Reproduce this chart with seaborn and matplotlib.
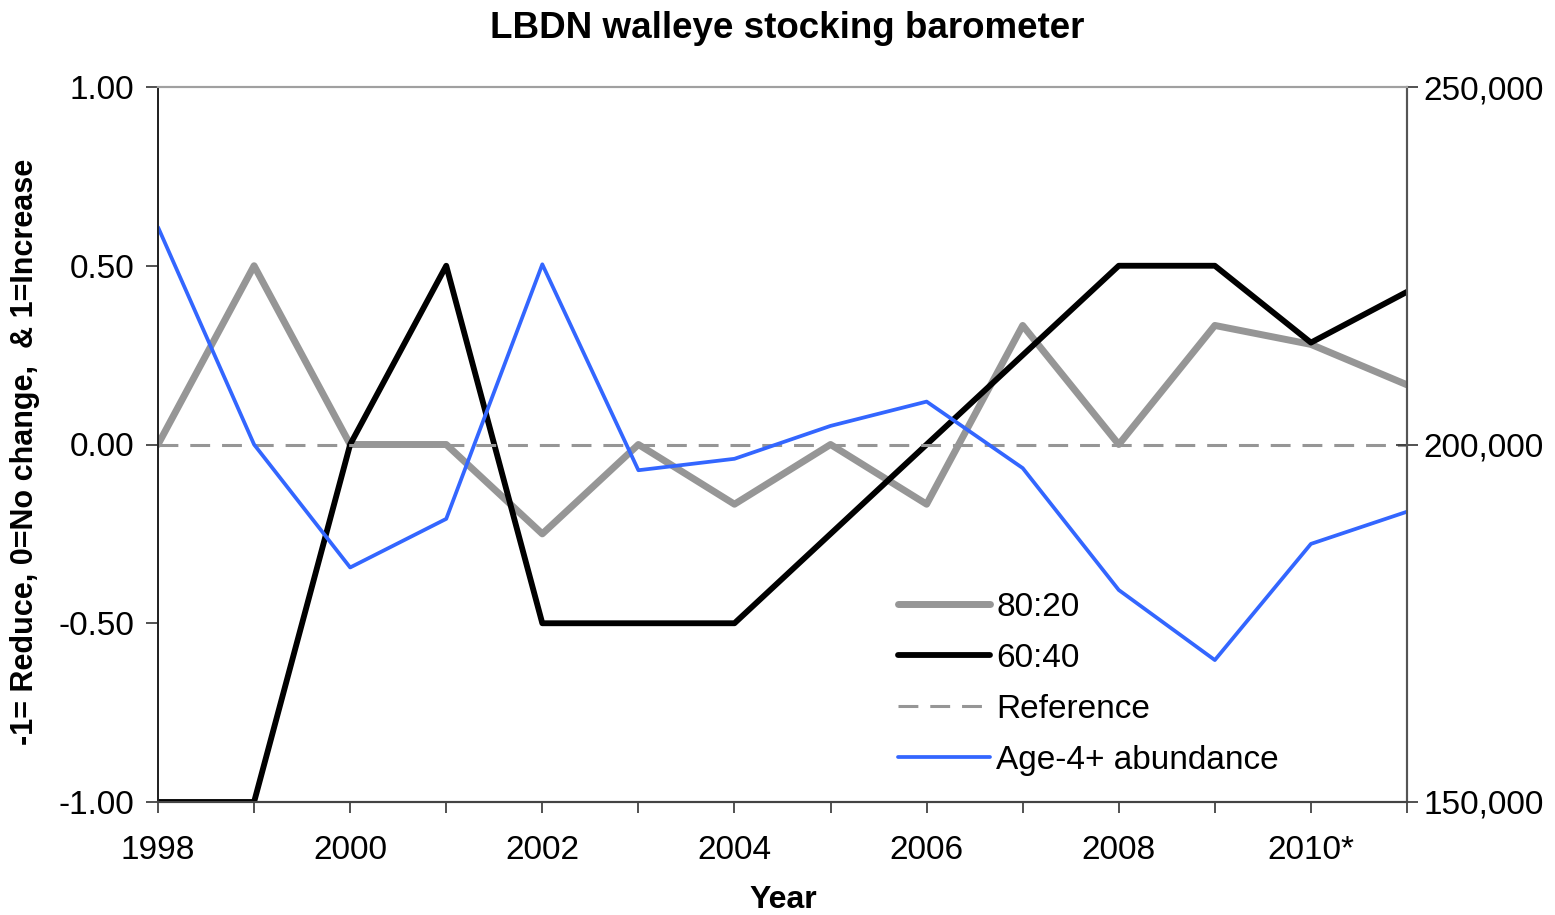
import numpy as np
import pandas as pd
import matplotlib
matplotlib.use("Agg")
import matplotlib.pyplot as plt
import matplotlib.ticker as mticker
import seaborn as sns

# ---- data ----
years = [1998, 1999, 2000, 2001, 2002, 2003, 2004, 2005, 2006, 2007, 2008, 2009, 2010, 2011]
tick_labels = ["1998", "", "2000", "", "2002", "", "2004", "", "2006", "", "2008", "", "2010*", ""]
ratio_80_20 = [0.0, 0.5, 0.0, 0.0, -0.25, 0.0, -0.167, 0.0, -0.167, 0.333, 0.0, 0.333, 0.28, 0.167]
ratio_60_40 = [-1.0, -1.0, 0.0, 0.5, -0.5, -0.5, -0.5, -0.25, 0.0, 0.25, 0.5, 0.5, 0.285, 0.427]
reference = [0.0] * 14
abundance = [230400, 200000, 182800, 189600, 225200, 196400, 198000, 202600, 206000, 196700,
             179650, 169850, 186100, 190600]
left_ticks = [-1.0, -0.5, 0.0, 0.5, 1.0]
right_ticks = [150000, 200000, 250000]

sns.set_style("white")
plt.rcParams["font.family"] = ["Liberation Sans", "DejaVu Sans"]
plt.rcParams["axes.unicode_minus"] = False
plt.rcParams["text.color"] = "black"
plt.rcParams["axes.labelcolor"] = "black"
plt.rcParams["xtick.color"] = "black"
plt.rcParams["ytick.color"] = "black"

fig = plt.figure(figsize=(15.55, 9.15), dpi=100)
ax = fig.add_axes([158 / 1555, 1 - 802 / 915, (1407 - 158) / 1555, (802 - 87) / 915])

GRAY = "#969696"
BLUE = "#3366FF"

sns.lineplot(x=years, y=ratio_80_20, ax=ax, color=GRAY, linewidth=5.0, label="80:20")
sns.lineplot(x=years, y=ratio_60_40, ax=ax, color="black", linewidth=4.2, label="60:40")
sns.lineplot(x=years, y=reference, ax=ax, color=GRAY, linewidth=2.2,
             linestyle=(0, (6.5, 3.9)), label="Reference")

ax2 = ax.twinx()
sns.lineplot(x=years, y=abundance, ax=ax2, color=BLUE, linewidth=2.7, label="Age-4+ abundance")

ax.set_xlim(1998, 2011)
ax.set_ylim(-1, 1)
ax2.set_ylim(150000, 250000)

ax.set_xticks(years)
ax.set_xticklabels(tick_labels)
ax.set_yticks(left_ticks)
ax.yaxis.set_major_formatter(mticker.FormatStrFormatter("%.2f"))
ax2.set_yticks(right_ticks)
ax2.yaxis.set_major_formatter(mticker.FuncFormatter(lambda v, p: f"{int(v):,}"))

ax.tick_params(axis="x", direction="out", length=8, width=1.2, color="#333333",
               labelcolor="black", labelsize=24, pad=16, bottom=True)
ax.tick_params(axis="y", direction="out", length=9, width=1.2, color="#333333",
               labelcolor="black", labelsize=24, pad=8, left=True)
ax2.tick_params(axis="y", direction="inout", length=16, width=1.2, color="#333333",
                labelcolor="black", labelsize=24, pad=4, right=True)

for a in (ax, ax2):
    a.spines["top"].set_color("#a0a0a0")
    a.spines["top"].set_linewidth(1.5)
    a.spines["left"].set_color("#222222")
    a.spines["left"].set_linewidth(1.3)
    a.spines["bottom"].set_color("#444444")
    a.spines["bottom"].set_linewidth(1.5)
    a.spines["right"].set_color("#555555")
    a.spines["right"].set_linewidth(1.5)
ax.grid(False)
ax2.grid(False)

ax.set_xlabel("")
ax.set_ylabel("")
fig.text(25 / 1555, 1 - 452 / 915, "-1= Reduce, 0=No change,  & 1=Increase",
         rotation=90, ha="center", va="center", fontsize=22, fontweight="bold", color="black")
fig.text(783 / 1555, 1 - 900 / 915, "Year", ha="center", va="center",
         fontsize=23, fontweight="bold", color="black")
fig.text(787 / 1555, 1 - 29 / 915, "LBDN walleye stocking barometer", ha="center",
         va="center", fontsize=26.5, fontweight="bold", color="black")

h1, l1 = ax.get_legend_handles_labels()
h2, l2 = ax2.get_legend_handles_labels()
if ax.get_legend():
    ax.get_legend().remove()
if ax2.get_legend():
    ax2.get_legend().remove()
leg = ax2.legend(h1 + h2, l1 + l2, loc="upper left",
                 bbox_to_anchor=(898 / 1555, 1 - 592 / 915), bbox_transform=fig.transFigure,
                 frameon=False, fontsize=24, handlelength=2.75, handletextpad=0.2,
                 labelspacing=0.6, borderpad=0, borderaxespad=0)
for t in leg.get_texts():
    t.set_color("black")

fig.savefig("out.png", dpi=100)
